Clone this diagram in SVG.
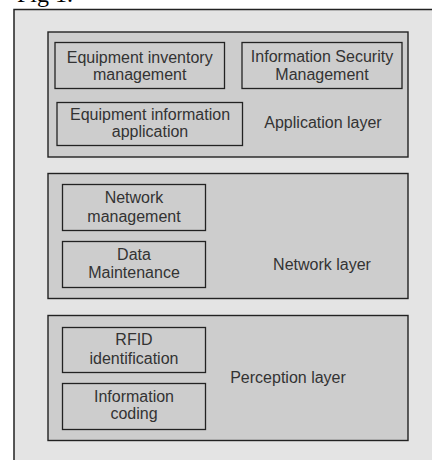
<svg xmlns="http://www.w3.org/2000/svg" width="432" height="460" viewBox="0 0 432 460">
  <style>
    .frame { fill: #e4e4e4; stroke: #222; stroke-width: 1.5; }
    .layer { fill: #cdcdcd; stroke: #222; stroke-width: 1.4; }
    .box { fill: #cdcdcd; stroke: #222; stroke-width: 1.3; }
    .t { font-family: "Liberation Sans", Arial, sans-serif; font-size: 16px; fill: #333; text-anchor: middle; }
    .cap { font-family: "Liberation Serif", "Times New Roman", serif; font-size: 24px; fill: #000; }
  </style>

  <rect width="432" height="460" fill="#fff"/>
  <text class="cap" x="17" y="1.5">Fig 1.</text>

  <!-- outer frame, running past the right and bottom edges -->
  <rect class="frame" x="14" y="9.5" width="440" height="470"/>

  <!-- application layer -->
  <g id="application-layer">
    <rect class="layer" x="48" y="32" width="360" height="125"/>
    <text class="t" x="323" y="128">Application layer</text>
  </g>
  <g id="equipment-inventory">
    <rect class="box" x="55" y="42.5" width="169.5" height="46"/>
    <text class="t" x="139.7" y="63">Equipment inventory</text>
    <text class="t" x="139.7" y="80">management</text>
  </g>
  <g id="information-security">
    <rect class="box" x="242" y="42.5" width="160" height="46"/>
    <text class="t" x="322" y="62">Information Security</text>
    <text class="t" x="322" y="80">Management</text>
  </g>
  <g id="equipment-information">
    <rect class="box" x="57" y="102.5" width="185.5" height="43"/>
    <text class="t" x="150" y="119.5">Equipment information</text>
    <text class="t" x="150" y="137">application</text>
  </g>

  <!-- network layer -->
  <g id="network-layer">
    <rect class="layer" x="48" y="173.5" width="360" height="125"/>
    <text class="t" x="322" y="270">Network layer</text>
  </g>
  <g id="network-management">
    <rect class="box" x="62.5" y="184.5" width="143" height="46"/>
    <text class="t" x="134" y="203">Network</text>
    <text class="t" x="134" y="222">management</text>
  </g>
  <g id="data-maintenance">
    <rect class="box" x="62.5" y="241.5" width="143" height="46"/>
    <text class="t" x="134" y="260">Data</text>
    <text class="t" x="134" y="278">Maintenance</text>
  </g>

  <!-- perception layer -->
  <g id="perception-layer">
    <rect class="layer" x="48" y="315.5" width="360" height="125"/>
    <text class="t" x="288" y="383">Perception layer</text>
  </g>
  <g id="rfid-identification">
    <rect class="box" x="62.5" y="327.5" width="143" height="45"/>
    <text class="t" x="134" y="345">RFID</text>
    <text class="t" x="134" y="364">identification</text>
  </g>
  <g id="information-coding">
    <rect class="box" x="62.5" y="383.5" width="143" height="46"/>
    <text class="t" x="134" y="402">Information</text>
    <text class="t" x="134" y="419">coding</text>
  </g>
</svg>
